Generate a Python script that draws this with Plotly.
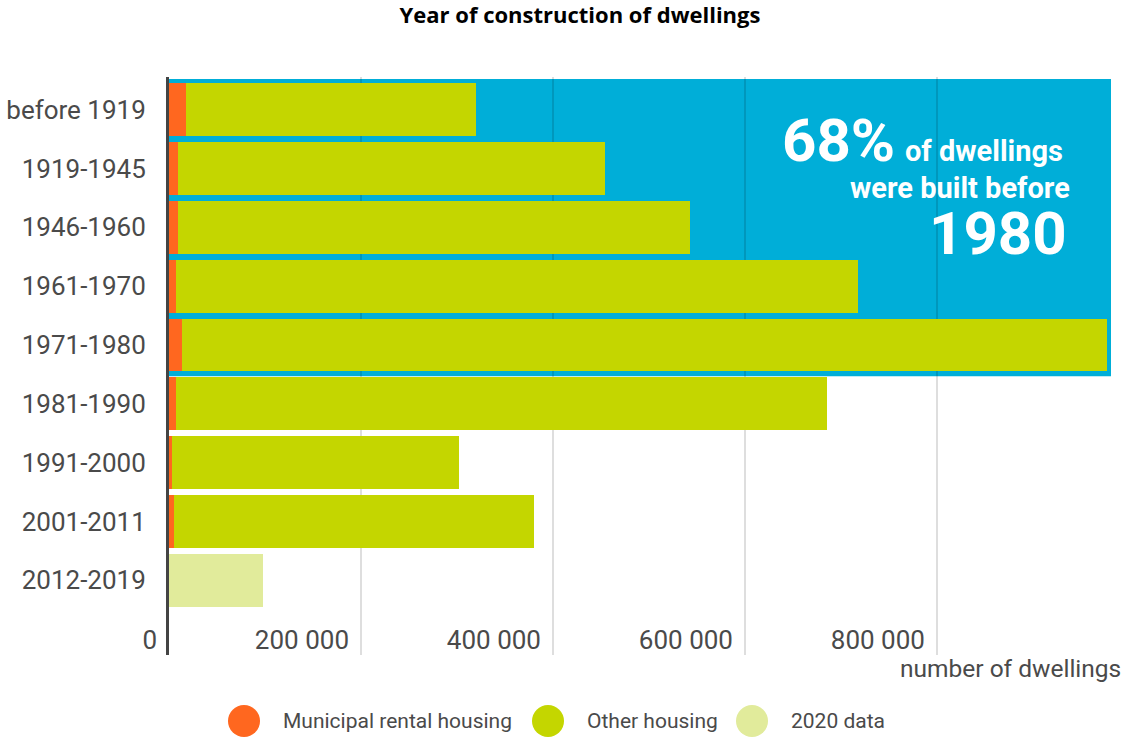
import plotly.graph_objects as go

# Construction periods, top to bottom
periods = ["before 1919", "1919-1945", "1946-1960", "1961-1970", "1971-1980",
           "1981-1990", "1991-2000", "2001-2011", "2012-2019"]
# Number of dwellings per period
municipal = [17700, 9000, 9000, 7000, 13500, 7000, 2800, 4900, None]
other = [301800, 445000, 533700, 710700, 963300, 678800, 299300, 375300, None]
data_2020 = [None, None, None, None, None, None, None, None, 97600]

x_tickvals = [0, 200000, 400000, 600000, 800000]
x_ticktext = ["0", "200 000", "400 000", "600 000", "800 000"]

ORANGE = "#FF671F"
GREEN = "#C4D600"
LIGHT = "#E1EB9B"
BLUE = "#00AED8"
TXT = "#4A4A4A"
FONT = "Roboto"

W, H = 1124, 738
L, R, T, B = 169, 1111, 77, 655


def px_x(px):
    return (px - L) / (R - L)


def px_y(py):
    return 1 - (py - T) / (B - T)


fig = go.Figure()
fig.add_trace(go.Bar(y=periods, x=municipal, orientation="h", name="Municipal rental housing",
                     marker=dict(color=ORANGE, line=dict(width=0)), width=0.9, showlegend=False))
fig.add_trace(go.Bar(y=periods, x=other, orientation="h", name="Other housing",
                     marker=dict(color=GREEN, line=dict(width=0)), width=0.9, showlegend=False))
fig.add_trace(go.Bar(y=periods, x=data_2020, orientation="h", name="2020 data",
                     marker=dict(color=LIGHT, line=dict(width=0)), width=0.9, showlegend=False))

shapes = [
    # highlight box behind the pre-1980 periods
    dict(type="rect", xref="paper", yref="y", x0=0, x1=1, y0=-0.52, y1=4.53,
         fillcolor=BLUE, line=dict(width=0), layer="below"),
]

annotations = []

# highlight text
annotations.append(dict(text="<b>68%</b>", xref="paper", yref="paper", x=px_x(897), y=px_y(140),
                        xanchor="right", yanchor="middle", showarrow=False,
                        font=dict(family=FONT, size=60, color="white")))
annotations.append(dict(text="<b>of dwellings</b>", xref="paper", yref="paper", x=px_x(1065), y=px_y(151),
                        xanchor="right", yanchor="middle", showarrow=False,
                        font=dict(family=FONT, size=29, color="white")))
annotations.append(dict(text="<b>were built before</b>", xref="paper", yref="paper", x=px_x(1072), y=px_y(188),
                        xanchor="right", yanchor="middle", showarrow=False, height=30,
                        font=dict(family=FONT, size=29, color="white")))
annotations.append(dict(text="<b>1980</b>", xref="paper", yref="paper", x=px_x(1069), y=px_y(233),
                        xanchor="right", yanchor="middle", showarrow=False, height=52,
                        font=dict(family=FONT, size=60, color="white")))

# axis title
annotations.append(dict(text="number of dwellings", xref="paper", yref="paper", x=px_x(1123), y=px_y(668),
                        xanchor="right", yanchor="middle", showarrow=False,
                        font=dict(family=FONT, size=24.5, color=TXT)))

# legend
legend_items = [("Municipal rental housing", ORANGE, 244, 281),
                ("Other housing", GREEN, 548, 585),
                ("2020 data", LIGHT, 752, 789)]
for label, color, cx, tx in legend_items:
    shapes.append(dict(type="circle", xref="paper", yref="paper",
                       x0=px_x(cx - 16), x1=px_x(cx + 16), y0=px_y(721 + 16), y1=px_y(721 - 16),
                       fillcolor=color, line=dict(width=0)))
    annotations.append(dict(text=label, xref="paper", yref="paper", x=px_x(tx), y=px_y(721),
                            xanchor="left", yanchor="middle", showarrow=False,
                            font=dict(family=FONT, size=21, color=TXT)))

fig.update_layout(
    width=W, height=H, autosize=False,
    margin=dict(l=L, r=W - R, t=T, b=H - B, pad=0),
    barmode="stack",
    bargap=0.1,
    plot_bgcolor="white", paper_bgcolor="white",
    title=dict(text="<b>Year of construction of dwellings</b>", x=580 / W, xref="container",
               xanchor="center", y=1 - 15 / H, yref="container", yanchor="middle",
               font=dict(family="Open Sans", size=22, color="black")),
    shapes=shapes,
    annotations=annotations,
    showlegend=False,
    xaxis=dict(range=[0, 981300], tickvals=x_tickvals, ticktext=x_ticktext,
               showgrid=True, gridcolor="rgba(0,0,0,0.13)", gridwidth=2,
               zeroline=False, showline=False, ticks="", automargin=False,
               ticklabelposition="outside left", ticklabelstandoff=-33, ticklabelshift=-12,
               tickfont=dict(family=FONT, size=26, color=TXT), fixedrange=True),
    yaxis=dict(type="category", categoryorder="array", categoryarray=periods,
               range=[9.27, -0.556], showgrid=False, zeroline=False, automargin=False,
               showline=True, linecolor="#444444", linewidth=3, ticks="",
               ticklabelstandoff=15,
               tickfont=dict(family=FONT, size=26, color=TXT), fixedrange=True),
)

fig.write_html("out.html")
